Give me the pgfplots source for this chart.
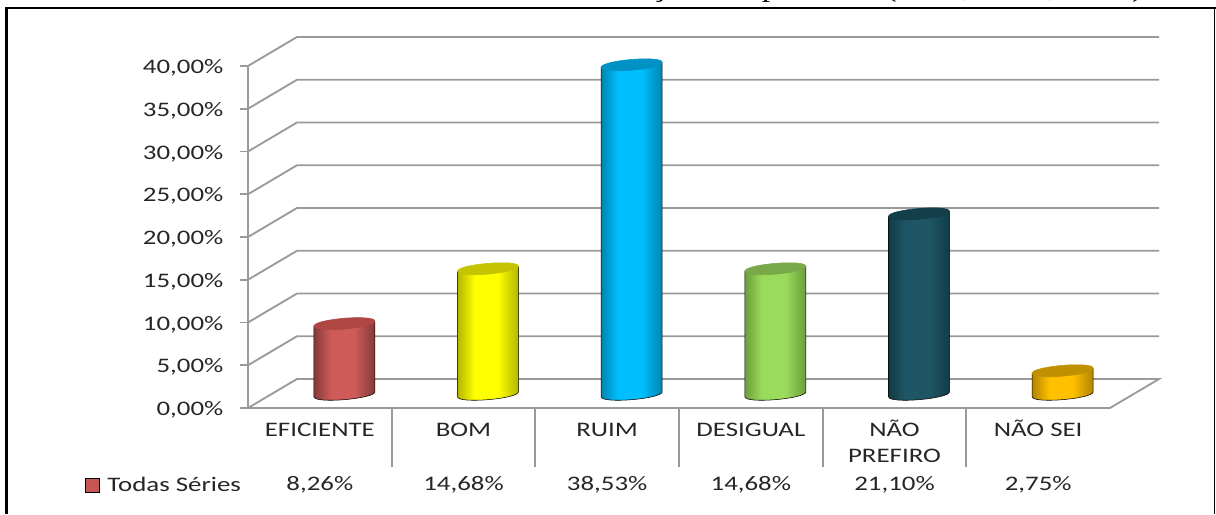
\documentclass[border=0pt]{standalone}
\usepackage{pgfplots}
\usepackage{pgfplotstable}
\pgfplotsset{compat=1.18}
\usepackage{fontspec}
\setmainfont[FakeStretch=1.30]{Carlito}
\newfontfamily\titlefont[FakeStretch=1.21]{Liberation Serif}
\definecolor{tickgray}{HTML}{9A9A9A}
\definecolor{txt}{HTML}{262626}
\definecolor{edge0}{HTML}{843A38}\definecolor{mid0}{HTML}{CF5B58}\definecolor{lid0}{HTML}{B04643}
\definecolor{edge1}{HTML}{B5B500}\definecolor{mid1}{HTML}{FFFF00}\definecolor{lid1}{HTML}{C4C400}
\definecolor{edge2}{HTML}{0084B0}\definecolor{mid2}{HTML}{00BFFF}\definecolor{lid2}{HTML}{0092C4}
\definecolor{edge3}{HTML}{6B9E3C}\definecolor{mid3}{HTML}{9BDB5C}\definecolor{lid3}{HTML}{78A848}
\definecolor{edge4}{HTML}{123B46}\definecolor{mid4}{HTML}{1F5666}\definecolor{lid4}{HTML}{133F4B}
\definecolor{edge5}{HTML}{B08500}\definecolor{mid5}{HTML}{FFC000}\definecolor{lid5}{HTML}{BF9000}
\def\mkcyl#1{\pgfdeclarehorizontalshading{cyl#1}{100bp}{color(0bp)=(edge#1);color(25bp)=(edge#1);color(39bp)=(mid#1);color(58bp)=(mid#1);color(75bp)=(edge#1);color(100bp)=(edge#1)}}
\mkcyl{0}\mkcyl{1}\mkcyl{2}\mkcyl{3}\mkcyl{4}\mkcyl{5}
\pgfplotstableread{
x c v
0 0 8.26
1 1 14.68
2 2 38.53
3 3 14.68
4 4 21.10
5 5 2.75
}\cyldata
% one cylinder: the mark sits on the value, the body runs down to zero by the value's height
\pgfdeclareplotmark{cyl}{%
  \begin{scope}[x=0.75pt,y=0.75pt]
    \pgfmathtruncatemacro\cid{round(\cidraw)}
    \pgfmathsetmacro\hh{\val*8.55}
    \pgfmathsetmacro\lo{-2.5-\hh}
    \pgfmathsetmacro\hi{2.5-\hh}
    \pgfmathsetmacro\loc{\lo-7.2}
    \pgfmathsetmacro\hic{\hi-7.2}
    \shade[shading=cyl\cid]
      (-30.5,-2.5) -- (-30.5,\lo) .. controls (-30.5,\loc) and (30.5,\hic) .. (30.5,\hi) -- (30.5,2.5) -- cycle;
    \fill[lid\cid] (-30.5,-2.5) .. controls (-30.5,4.7) and (30.5,9.7) .. (30.5,2.5)
      .. controls (30.5,-4.7) and (-30.5,-9.7) .. (-30.5,-2.5) -- cycle;
  \end{scope}}
\pgfplotsset{chartbox/.style={
  scale only axis,width=646.5pt,height=256.5pt,
  xmin=-0.5,xmax=5.5,ymin=0,ymax=40,clip=false}}
\begin{document}
\begin{tikzpicture}
\clip[use as bounding box] (0,0) rectangle (912pt,385.5pt);
\node[anchor=base east,font=\titlefont\fontsize{21}{24}\selectfont,inner sep=0pt] at (858pt,388.2pt) {Avaliação dos públicos (2011, 2012, 2013)};
\fill[black] (3.8pt,0) rectangle (6pt,380.5pt);
\fill[black] (3.8pt,378.8pt) rectangle (912pt,380.5pt);
\fill[black] (910.6pt,0) rectangle (911.6pt,380.5pt);
\begin{axis}[chartbox,at={(186pt,79.5pt)},
  axis lines=left,axis line style={-,tickgray,line width=1.4pt},
  every tick/.style={tickgray,line width=1.4pt},
  tick align=outside,
  ytick={0,5,...,40},
  y tick style={/pgfplots/major tick length=6pt},
  y tick label style={font=\fontsize{15.5}{18}\selectfont,text=txt,inner sep=0pt,xshift=-14pt,yshift=-1.4pt},
  yticklabel={\pgfmathprintnumber[fixed,fixed zerofill,precision=2,use comma,assume math mode=true]{\tick}\%},
  xtick={0.5,1.5,2.5,3.5,4.5},xticklabels={},
  x tick style={/pgfplots/major tick length=44.3pt},
  extra x ticks={0,1,2,3,4,5},
  extra x tick labels={\vphantom{\~A}EFICIENTE,\vphantom{\~A}BOM,\vphantom{\~A}RUIM,\vphantom{\~A}DESIGUAL,{N\~AO\\PREFIRO},N\~AO SEI},
  extra x tick style={major tick length=0pt,tick style={draw=none},
    x tick label style={font=\fontsize{15.5}{19.5}\selectfont,text=txt,align=center,inner sep=0pt,yshift=-9pt,anchor=north}},
  legend style={at={(-0.1895,-0.225)},anchor=west,draw=none,fill=none,inner sep=0pt,
    font=\fontsize{15.5}{18}\selectfont,text=txt},
  unbounded coords=jump]
\addplot[tickgray,line width=1.4pt,forget plot] coordinates {
 (-0.5,0) (-0.159,3.392) (5.841,3.392) (5.5,0) (0,nan)
 (-0.5,5) (-0.159,8.392) (5.841,8.392) (0,nan)
 (-0.5,10) (-0.159,13.392) (5.841,13.392) (0,nan)
 (-0.5,15) (-0.159,18.392) (5.841,18.392) (0,nan)
 (-0.5,20) (-0.159,23.392) (5.841,23.392) (0,nan)
 (-0.5,25) (-0.159,28.392) (5.841,28.392) (0,nan)
 (-0.5,30) (-0.159,33.392) (5.841,33.392) (0,nan)
 (-0.5,35) (-0.159,38.392) (5.841,38.392) (0,nan)
 (-0.5,40) (-0.159,43.392) (5.841,43.392)
};
\addlegendimage{only marks,mark=square*,mark size=5.2pt,mark options={draw=none,fill=mid0!95!black}}
\addlegendentry{\hspace*{4.5pt}Todas S\'eries}
\node[font=\fontsize{15.5}{18}\selectfont,text=txt] at (axis cs:0,-8.95) {8,26\%};
\node[font=\fontsize{15.5}{18}\selectfont,text=txt] at (axis cs:1,-8.95) {14,68\%};
\node[font=\fontsize{15.5}{18}\selectfont,text=txt] at (axis cs:2,-8.95) {38,53\%};
\node[font=\fontsize{15.5}{18}\selectfont,text=txt] at (axis cs:3,-8.95) {14,68\%};
\node[font=\fontsize{15.5}{18}\selectfont,text=txt] at (axis cs:4,-8.95) {21,10\%};
\node[font=\fontsize{15.5}{18}\selectfont,text=txt] at (axis cs:5,-8.95) {2,75\%};
\end{axis}
\begin{axis}[chartbox,at={(204.4pt,89.8pt)},hide axis,
  scatter/@pre marker code/.code={\scope},scatter/@post marker code/.code={\endscope}]
\addplot[scatter,only marks,mark=cyl,
  visualization depends on={\thisrow{v} \as \val},
  visualization depends on={\thisrow{c} \as \cidraw}]
  table[x=x,y=v] {\cyldata};
\end{axis}
\end{tikzpicture}
\end{document}
